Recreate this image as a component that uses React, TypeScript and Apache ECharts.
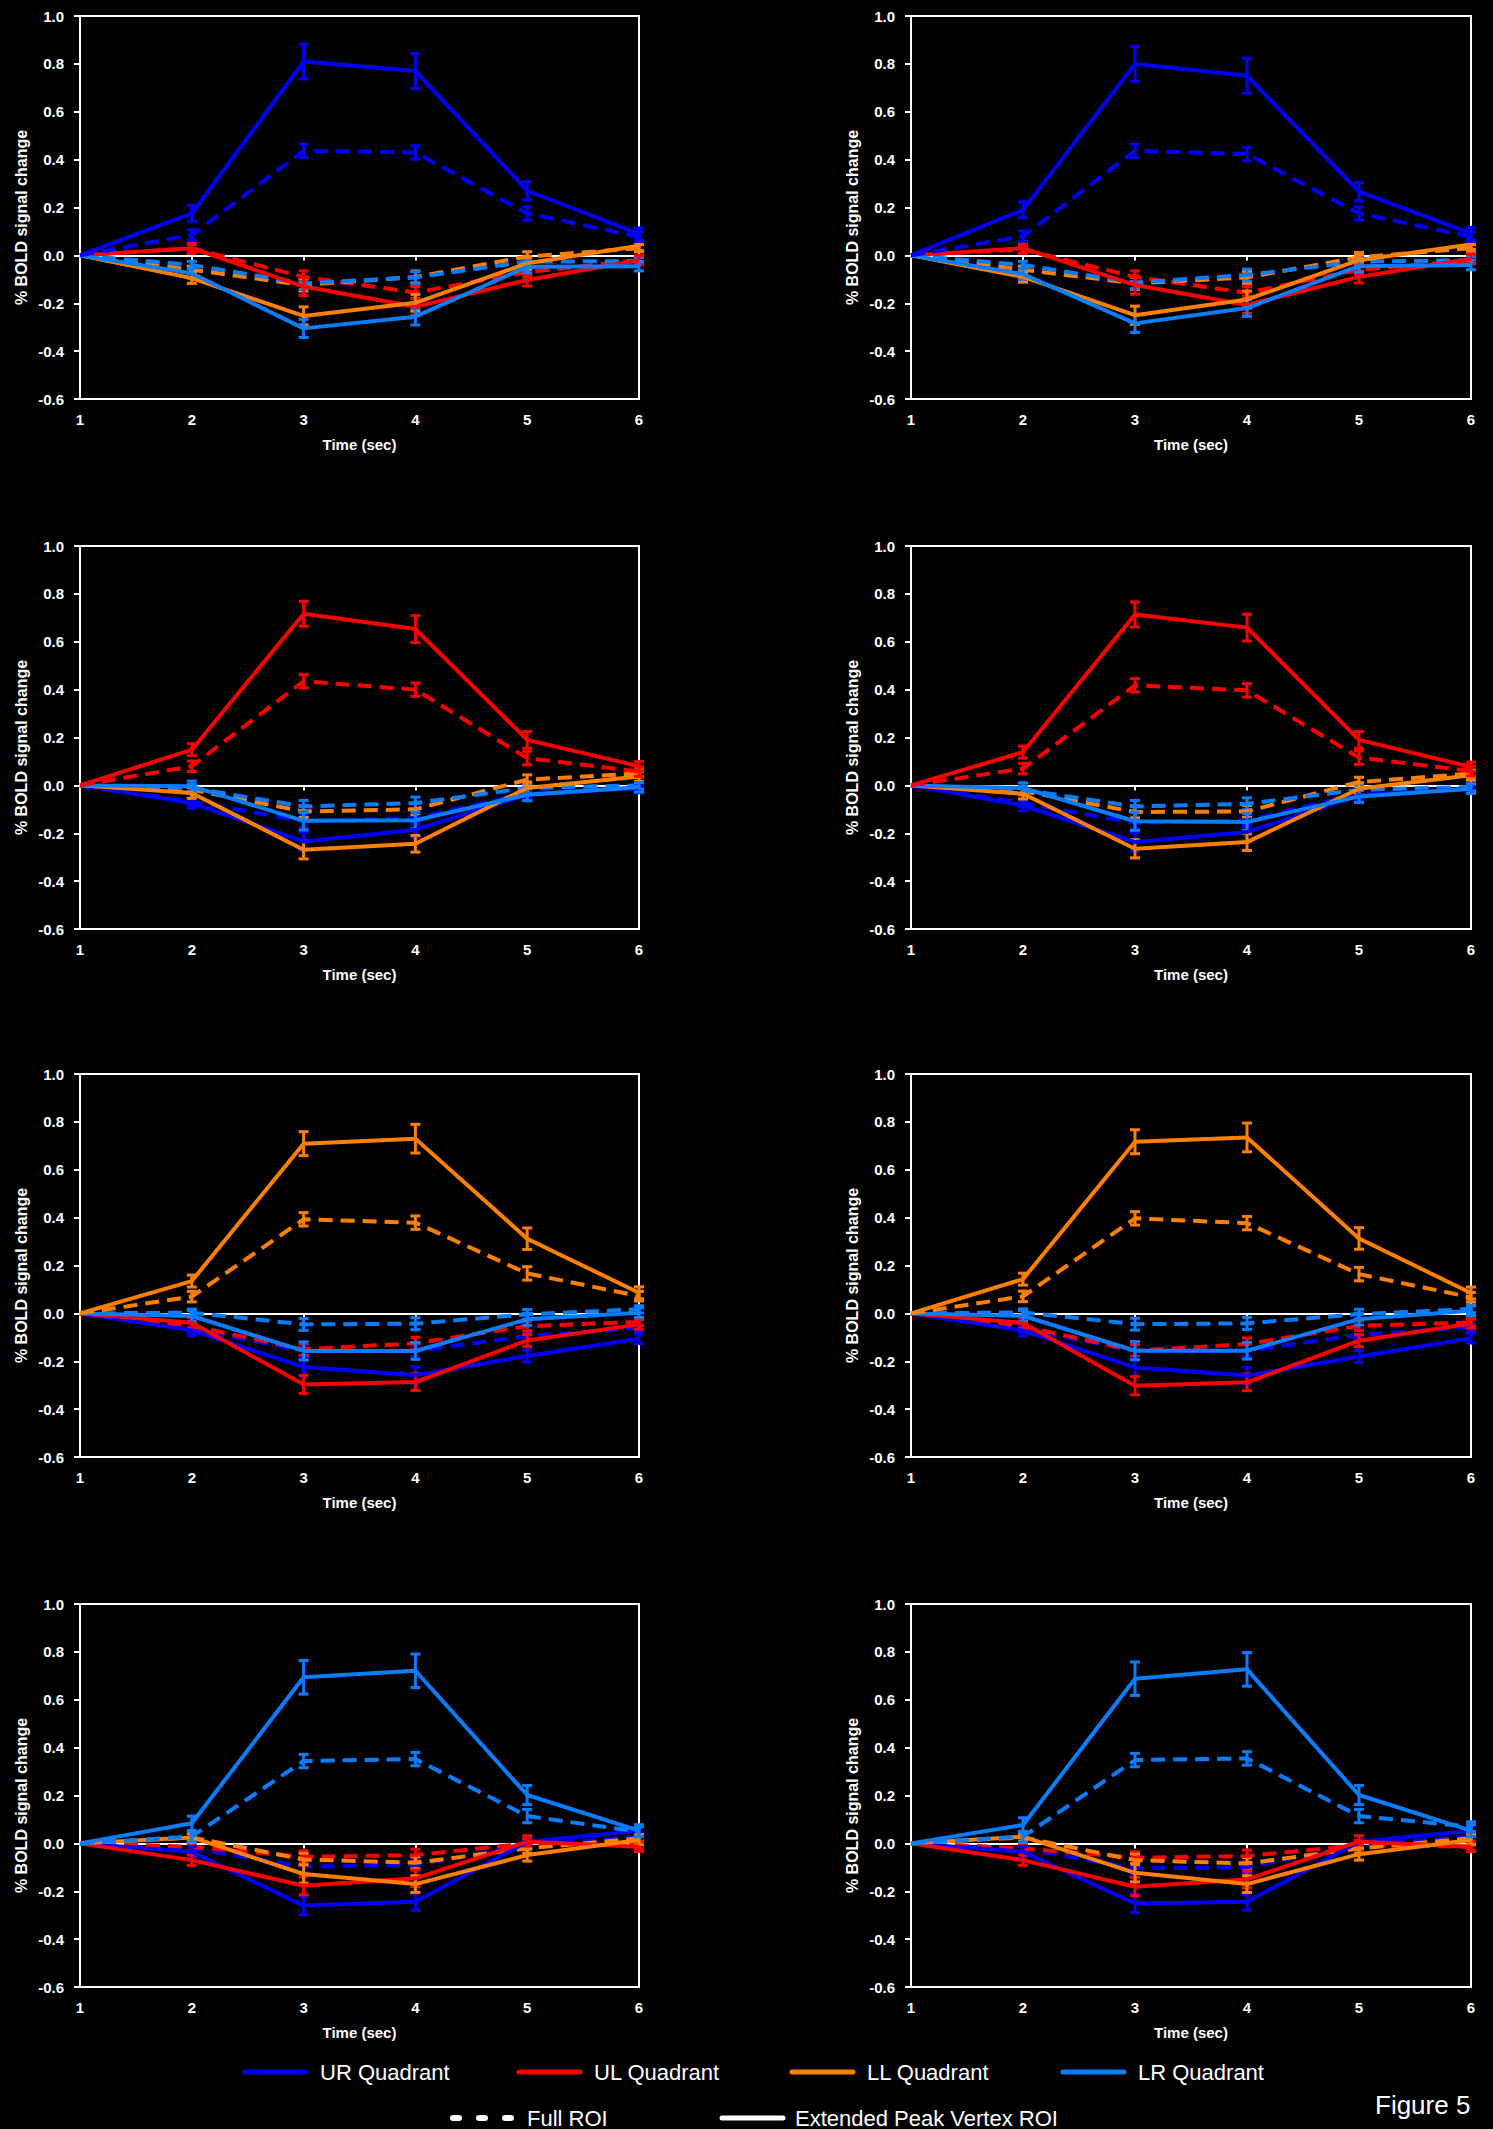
import React, { useEffect, useRef } from "react";
import * as echarts from "echarts";

// ---------- data ----------
const TIME = [1, 2, 3, 4, 5, 6];
const X_TICK_LABELS = ["1", "2", "3", "4", "5", "6"];

// Row 1 (UR stimulated), left panel
const r1L_UR_ext = [0, 0.175, 0.81, 0.77, 0.27, 0.09];
const r1L_UR_full = [0, 0.085, 0.437, 0.43, 0.175, 0.078];
const r1L_UL_ext = [0, 0.03, -0.13, -0.215, -0.103, -0.02];
const r1L_UL_full = [0, 0.03, -0.09, -0.155, -0.07, -0.02];
const r1L_LL_ext = [0, -0.095, -0.253, -0.198, -0.033, 0.04];
const r1L_LL_full = [0, -0.06, -0.124, -0.09, -0.005, 0.03];
const r1L_LR_ext = [0, -0.075, -0.305, -0.256, -0.047, -0.045];
const r1L_LR_full = [0, -0.04, -0.117, -0.092, -0.026, -0.024];
// Row 1, right panel
const r1R_UR_ext = [0, 0.19, 0.8, 0.75, 0.266, 0.092];
const r1R_UR_full = [0, 0.08, 0.437, 0.423, 0.175, 0.078];
const r1R_UL_ext = [0, 0.03, -0.124, -0.207, -0.09, -0.014];
const r1R_UL_full = [0, 0.025, -0.09, -0.156, -0.06, -0.02];
const r1R_LL_ext = [0, -0.09, -0.25, -0.184, -0.02, 0.046];
const r1R_LL_full = [0, -0.06, -0.117, -0.092, -0.008, 0.03];
const r1R_LR_ext = [0, -0.078, -0.284, -0.22, -0.045, -0.04];
const r1R_LR_full = [0, -0.04, -0.114, -0.082, -0.026, -0.02];
// Row 2 (UL stimulated), left
const r2L_UL_ext = [0, 0.149, 0.717, 0.653, 0.19, 0.08];
const r2L_UL_full = [0, 0.08, 0.435, 0.4, 0.114, 0.058];
const r2L_LL_ext = [0, -0.032, -0.269, -0.244, -0.011, 0.037];
const r2L_LL_full = [0, -0.018, -0.109, -0.1, 0.024, 0.05];
const r2L_UR_ext = [0, -0.074, -0.234, -0.185, -0.039, -0.011];
const r2L_UR_full = [0, -0.067, -0.15, -0.136, -0.032, -0.011];
const r2L_LR_ext = [0, -0.004, -0.148, -0.146, -0.039, -0.008];
const r2L_LR_full = [0, -0.011, -0.088, -0.074, -0.011, 0.0];
// Row 2, right
const r2R_UL_ext = [0, 0.139, 0.714, 0.659, 0.19, 0.077];
const r2R_UL_full = [0, 0.07, 0.418, 0.397, 0.116, 0.06];
const r2R_LL_ext = [0, -0.035, -0.265, -0.237, -0.014, 0.042];
const r2R_LL_full = [0, -0.024, -0.111, -0.109, 0.014, 0.049];
const r2R_UR_ext = [0, -0.084, -0.237, -0.195, -0.042, -0.014];
const r2R_UR_full = [0, -0.074, -0.157, -0.146, -0.035, -0.018];
const r2R_LR_ext = [0, -0.011, -0.15, -0.153, -0.046, -0.014];
const r2R_LR_full = [0, -0.018, -0.088, -0.077, -0.018, -0.007];
// Row 3 (LL stimulated), left
const r3L_LL_ext = [0, 0.135, 0.709, 0.73, 0.312, 0.086];
const r3L_LL_full = [0, 0.07, 0.393, 0.379, 0.167, 0.072];
const r3L_LR_ext = [0, -0.011, -0.157, -0.157, -0.025, 0.003];
const r3L_LR_full = [0, 0.003, -0.046, -0.043, -0.004, 0.017];
const r3L_UL_ext = [0, -0.039, -0.297, -0.287, -0.113, -0.046];
const r3L_UL_full = [0, -0.053, -0.15, -0.125, -0.053, -0.036];
const r3L_UR_ext = [0, -0.071, -0.224, -0.258, -0.178, -0.106];
const r3L_UR_full = [0, -0.064, -0.157, -0.157, -0.095, -0.06];
// Row 3, right
const r3R_LL_ext = [0, 0.143, 0.717, 0.735, 0.313, 0.085];
const r3R_LL_full = [0, 0.071, 0.397, 0.377, 0.164, 0.067];
const r3R_LR_ext = [0, -0.01, -0.156, -0.156, -0.024, 0.011];
const r3R_LR_full = [0, 0.004, -0.045, -0.042, -0.003, 0.018];
const r3R_UL_ext = [0, -0.04, -0.302, -0.288, -0.114, -0.042];
const r3R_UL_full = [0, -0.054, -0.156, -0.128, -0.052, -0.038];
const r3R_UR_ext = [0, -0.072, -0.226, -0.26, -0.18, -0.104];
const r3R_UR_full = [0, -0.065, -0.156, -0.156, -0.09, -0.058];
// Row 4 (LR stimulated), left
const r4L_LR_ext = [0, 0.084, 0.694, 0.721, 0.202, 0.053];
const r4L_LR_full = [0, 0.028, 0.344, 0.352, 0.114, 0.049];
const r4L_LL_ext = [0, 0.025, -0.128, -0.17, -0.049, 0.014];
const r4L_LL_full = [0, 0.025, -0.067, -0.081, -0.021, 0.021];
const r4L_UL_ext = [0, -0.07, -0.177, -0.146, 0.007, -0.014];
const r4L_UL_full = [0, -0.014, -0.056, -0.049, 0.0, -0.007];
const r4L_UR_ext = [0, -0.035, -0.26, -0.244, 0.007, 0.053];
const r4L_UR_full = [0, -0.021, -0.097, -0.09, -0.007, 0.028];
// Row 4, right
const r4R_LR_ext = [0, 0.077, 0.688, 0.727, 0.202, 0.053];
const r4R_LR_full = [0, 0.028, 0.348, 0.355, 0.114, 0.07];
const r4R_LL_ext = [0, 0.028, -0.123, -0.17, -0.045, 0.014];
const r4R_LL_full = [0, 0.025, -0.07, -0.084, -0.021, 0.021];
const r4R_UL_ext = [0, -0.07, -0.181, -0.15, 0.007, -0.014];
const r4R_UL_full = [0, -0.021, -0.06, -0.053, -0.007, -0.014];
const r4R_UR_ext = [0, -0.035, -0.251, -0.244, 0.007, 0.053];
const r4R_UR_full = [0, -0.021, -0.104, -0.1, -0.007, 0.028];

// error-bar half widths (SEM)
const ERR_PEAK_UR = [0, 0.033, 0.073, 0.073, 0.038, 0.025];
const ERR_PEAK_UL = [0, 0.025, 0.052, 0.056, 0.035, 0.02];
const ERR_PEAK_LL = [0, 0.025, 0.05, 0.06, 0.045, 0.025];
const ERR_PEAK_LR = [0, 0.03, 0.07, 0.07, 0.04, 0.025];
const ERR_PEAK_FULL = [0, 0.022, 0.028, 0.028, 0.028, 0.02];
const ERR_OTHER_EXT = [0, 0.022, 0.038, 0.035, 0.025, 0.02];
const ERR_OTHER_FULL = [0, 0.015, 0.025, 0.025, 0.02, 0.015];

const QUADS = ["UR", "UL", "LL", "LR"];
const QUAD_LABELS = ["UR Quadrant", "UL Quadrant", "LL Quadrant", "LR Quadrant"];
const ROI_LABELS = ["Full ROI", "Extended Peak Vertex ROI"];
const Y_NAME = "% BOLD signal change";
const X_NAME = "Time (sec)";
const FIG_LABEL = "Figure 5";

// ---------- styles / layout ----------
const COLORS: Record<string, string> = {
  UR: "#0000FF",
  UL: "#FF0000",
  LL: "#FF8000",
  LR: "#0A7DFF",
};
const FONT = "'Liberation Sans', Arial, Helvetica, sans-serif";
const COL_LEFT = [80, 911];
const COL_W = [559, 560];
const ROW_TOP = [16, 546, 1074, 1604];
const GRID_H = 383;

const PANELS = [
  { row: 0, col: 0, peak: "UR", err: ERR_PEAK_UR, d: { UR: [r1L_UR_ext, r1L_UR_full], UL: [r1L_UL_ext, r1L_UL_full], LL: [r1L_LL_ext, r1L_LL_full], LR: [r1L_LR_ext, r1L_LR_full] } },
  { row: 0, col: 1, peak: "UR", err: ERR_PEAK_UR, d: { UR: [r1R_UR_ext, r1R_UR_full], UL: [r1R_UL_ext, r1R_UL_full], LL: [r1R_LL_ext, r1R_LL_full], LR: [r1R_LR_ext, r1R_LR_full] } },
  { row: 1, col: 0, peak: "UL", err: ERR_PEAK_UL, d: { UR: [r2L_UR_ext, r2L_UR_full], UL: [r2L_UL_ext, r2L_UL_full], LL: [r2L_LL_ext, r2L_LL_full], LR: [r2L_LR_ext, r2L_LR_full] } },
  { row: 1, col: 1, peak: "UL", err: ERR_PEAK_UL, d: { UR: [r2R_UR_ext, r2R_UR_full], UL: [r2R_UL_ext, r2R_UL_full], LL: [r2R_LL_ext, r2R_LL_full], LR: [r2R_LR_ext, r2R_LR_full] } },
  { row: 2, col: 0, peak: "LL", err: ERR_PEAK_LL, d: { UR: [r3L_UR_ext, r3L_UR_full], UL: [r3L_UL_ext, r3L_UL_full], LL: [r3L_LL_ext, r3L_LL_full], LR: [r3L_LR_ext, r3L_LR_full] } },
  { row: 2, col: 1, peak: "LL", err: ERR_PEAK_LL, d: { UR: [r3R_UR_ext, r3R_UR_full], UL: [r3R_UL_ext, r3R_UL_full], LL: [r3R_LL_ext, r3R_LL_full], LR: [r3R_LR_ext, r3R_LR_full] } },
  { row: 3, col: 0, peak: "LR", err: ERR_PEAK_LR, d: { UR: [r4L_UR_ext, r4L_UR_full], UL: [r4L_UL_ext, r4L_UL_full], LL: [r4L_LL_ext, r4L_LL_full], LR: [r4L_LR_ext, r4L_LR_full] } },
  { row: 3, col: 1, peak: "LR", err: ERR_PEAK_LR, d: { UR: [r4R_UR_ext, r4R_UR_full], UL: [r4R_UL_ext, r4R_UL_full], LL: [r4R_LL_ext, r4R_LL_full], LR: [r4R_LR_ext, r4R_LR_full] } },
];

function errorBarRenderer(color: string, lw: number) {
  return (params: any, api: any) => {
    const x = api.value(0);
    const y = api.value(1);
    const e = api.value(2);
    const top = api.coord([x, y + e]);
    const bot = api.coord([x, y - e]);
    const hw = 5;
    const style = { stroke: color, lineWidth: lw, fill: "none" };
    return {
      type: "group",
      children: [
        { type: "line", shape: { x1: top[0], y1: top[1], x2: bot[0], y2: bot[1] }, style },
        { type: "line", shape: { x1: top[0] - hw, y1: top[1], x2: top[0] + hw, y2: top[1] }, style },
        { type: "line", shape: { x1: bot[0] - hw, y1: bot[1], x2: bot[0] + hw, y2: bot[1] }, style },
      ],
    };
  };
}

function buildOption() {
  const grid: any[] = [];
  const xAxis: any[] = [];
  const yAxis: any[] = [];
  const series: any[] = [];
  const graphic: any[] = [];

  PANELS.forEach((p, i) => {
    const left = COL_LEFT[p.col];
    const width = COL_W[p.col];
    const top = ROW_TOP[p.row];
    grid.push({
      left,
      top,
      width,
      height: GRID_H,
      show: true,
      borderColor: "#ffffff",
      borderWidth: 2,
      backgroundColor: "transparent",
    });
    // labelled bottom axis
    xAxis.push({
      gridIndex: i,
      type: "value",
      min: 1,
      max: 6,
      interval: 1,
      position: "bottom",
      axisLine: { show: false, onZero: false },
      axisTick: { show: false },
      splitLine: { show: false },
      axisLabel: {
        color: "#ffffff",
        fontWeight: "bold",
        fontSize: 15,
        fontFamily: FONT,
        margin: 13,
        formatter: (v: number) => X_TICK_LABELS[Math.round(v) - 1] ?? "",
      },
      name: X_NAME,
      nameLocation: "middle",
      nameGap: 38,
      nameTextStyle: { color: "#ffffff", fontWeight: "bold", fontSize: 15, fontFamily: FONT },
    });
    // zero line axis with ticks
    xAxis.push({
      gridIndex: i,
      type: "value",
      min: 1,
      max: 6,
      interval: 1,
      position: "bottom",
      axisLine: { show: true, onZero: true, lineStyle: { color: "#ffffff", width: 2 } },
      axisTick: { show: true, length: 5, lineStyle: { color: "#ffffff", width: 2 } },
      axisLabel: { show: false },
      splitLine: { show: false },
    });
    yAxis.push({
      gridIndex: i,
      type: "value",
      min: -0.6,
      max: 1.0,
      interval: 0.2,
      axisLine: { show: true, onZero: false, lineStyle: { color: "#ffffff", width: 2 } },
      axisTick: { show: true, length: 6, lineStyle: { color: "#ffffff", width: 2 } },
      splitLine: { show: false },
      axisLabel: {
        color: "#ffffff",
        fontWeight: "bold",
        fontSize: 15,
        fontFamily: FONT,
        margin: 16,
        formatter: (v: number) => (Math.abs(v) < 1e-9 ? "0.0" : v.toFixed(1)),
      },
    });

    const order = QUADS.filter((q) => q !== p.peak).concat([p.peak]);
    order.forEach((q) => {
      const isPeak = q === p.peak;
      const [ext, full] = (p.d as any)[q] as number[][];
      const color = COLORS[q];
      const z = isPeak ? 5 : 3;
      // Full ROI (dashed)
      series.push({
        type: "line",
        xAxisIndex: 2 * i,
        yAxisIndex: i,
        data: TIME.map((t, k) => [t, full[k]]),
        symbol: "none",
        silent: true,
        z,
        lineStyle: { color, width: 4, type: [14, 8] },
      });
      const errFull = isPeak ? ERR_PEAK_FULL : ERR_OTHER_FULL;
      series.push({
        type: "custom",
        xAxisIndex: 2 * i,
        yAxisIndex: i,
        silent: true,
        z,
        data: TIME.map((t, k) => [t, full[k], errFull[k]]).filter((_, k) => k > 0),
        renderItem: errorBarRenderer(color, 3),
      });
      // Extended Peak Vertex ROI (solid)
      series.push({
        type: "line",
        xAxisIndex: 2 * i,
        yAxisIndex: i,
        data: TIME.map((t, k) => [t, ext[k]]),
        symbol: "none",
        silent: true,
        z: z + 1,
        lineStyle: { color, width: 4, type: "solid" },
      });
      const errExt = isPeak ? p.err : ERR_OTHER_EXT;
      series.push({
        type: "custom",
        xAxisIndex: 2 * i,
        yAxisIndex: i,
        silent: true,
        z: z + 1,
        data: TIME.map((t, k) => [t, ext[k], errExt[k]]).filter((_, k) => k > 0),
        renderItem: errorBarRenderer(color, 3),
      });
    });

    // y-axis name
    graphic.push({
      type: "text",
      x: left - 59,
      y: top + GRID_H / 2 + 10,
      rotation: Math.PI / 2,
      style: {
        text: Y_NAME,
        fill: "#ffffff",
        font: `bold 16px ${FONT}`,
        textAlign: "center",
        textVerticalAlign: "middle",
        align: "center",
        verticalAlign: "middle",
      },
    });
  });

  // legend row 1
  const legY1 = 2072;
  const legLineX = [245, 519, 792, 1063];
  QUADS.forEach((q, k) => {
    const x0 = legLineX[k];
    graphic.push({
      type: "line",
      shape: { x1: x0, y1: legY1, x2: x0 + 61, y2: legY1 },
      style: { stroke: COLORS[q], lineWidth: 5, lineCap: "round" },
    });
    graphic.push({
      type: "text",
      x: x0 + 75,
      y: legY1,
      style: {
        text: QUAD_LABELS[k],
        fill: "#ffffff",
        font: `22px ${FONT}`,
        textVerticalAlign: "middle",
        verticalAlign: "middle",
      },
    });
  });
  // legend row 2
  const legY2 = 2118;
  [456, 482, 508].forEach((cx) => {
    graphic.push({
      type: "line",
      shape: { x1: cx - 3, y1: legY2, x2: cx + 3, y2: legY2 },
      style: { stroke: "#ffffff", lineWidth: 6, lineCap: "round" },
    });
  });
  graphic.push({
    type: "text",
    x: 527,
    y: legY2,
    style: { text: ROI_LABELS[0], fill: "#ffffff", font: `22px ${FONT}`, textVerticalAlign: "middle", verticalAlign: "middle" },
  });
  graphic.push({
    type: "line",
    shape: { x1: 722, y1: legY2, x2: 783, y2: legY2 },
    style: { stroke: "#ffffff", lineWidth: 5, lineCap: "round" },
  });
  graphic.push({
    type: "text",
    x: 795,
    y: legY2,
    style: { text: ROI_LABELS[1], fill: "#ffffff", font: `22px ${FONT}`, textVerticalAlign: "middle", verticalAlign: "middle" },
  });
  graphic.push({
    type: "text",
    x: 1375,
    y: 2105,
    style: { text: FIG_LABEL, fill: "#ffffff", font: `26px ${FONT}`, textVerticalAlign: "middle", verticalAlign: "middle" },
  });

  return {
    animation: false,
    backgroundColor: "#000000",
    grid,
    xAxis,
    yAxis,
    series,
    graphic,
  };
}

export default function App() {
  const ref = useRef<HTMLDivElement>(null);
  useEffect(() => {
    document.body.style.background = "#000";
    if (!ref.current) return;
    const chart = echarts.init(ref.current, undefined, { renderer: "svg", width: 1493, height: 2129 });
    chart.setOption(buildOption() as any);
    return () => chart.dispose();
  }, []);
  return (
    <div
      ref={ref}
      style={{ position: "absolute", left: 0, top: 0, width: 1493, height: 2129, background: "#000" }}
    />
  );
}
